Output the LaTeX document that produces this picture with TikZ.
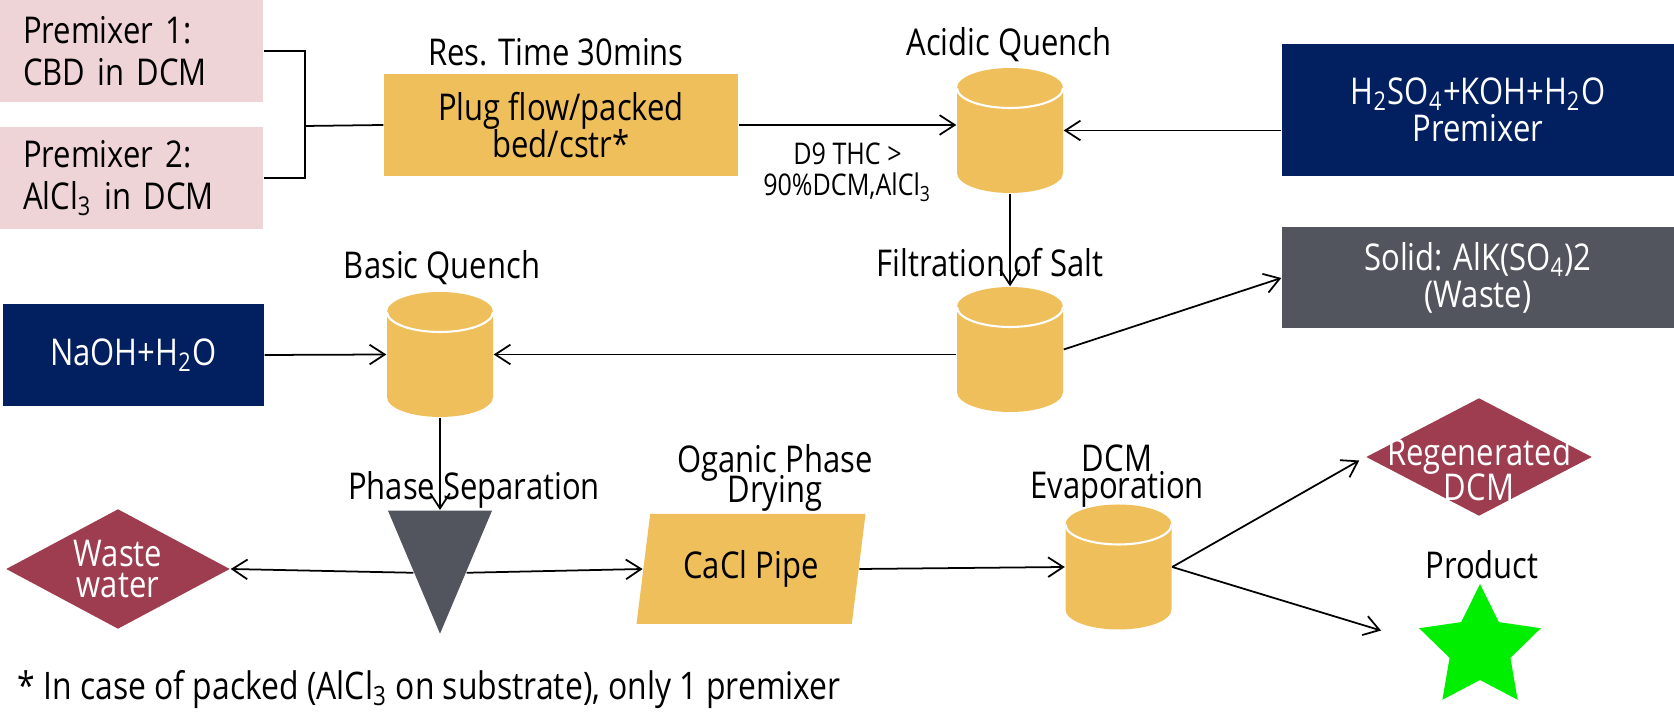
\documentclass[tikz,border=0pt]{standalone}
\usepackage{fontspec}
\setmainfont{Open Sans}[FakeStretch=0.84]
\usetikzlibrary{shapes.geometric, arrows.meta, positioning, calc}
\definecolor{mixpink}{HTML}{EED3D7}
\definecolor{vesselgold}{HTML}{EFBF5C}
\definecolor{reagentblue}{HTML}{022060}
\definecolor{slategray}{HTML}{52555E}
\definecolor{wastered}{HTML}{9E3D50}
\definecolor{stargreen}{HTML}{00EE00}
\newcommand{\lsk}[1]{\fontsize{10.5}{#1}\selectfont\lineskiplimit=-100pt}
\tikzset{
    premix/.style={rectangle, fill=mixpink, minimum width=2.63cm, minimum height=1.02cm, text width=2.17cm, inner xsep=0.23cm, align=left, font=\lsk{12}},
    reactor/.style={rectangle, fill=vesselgold, minimum width=3.54cm, minimum height=1.02cm, align=center, font=\lsk{10.5}},
    vessel/.style={rectangle, minimum width=1.06cm, minimum height=1.25cm, inner sep=0, path picture={
        \fill [vesselgold] ($(path picture bounding box.north west)+(0,-0.2)$) arc [start angle=180, end angle=0, x radius=0.53cm, y radius=0.2cm]
            -- ($(path picture bounding box.south east)+(0,0.2)$) arc [start angle=0, end angle=-180, x radius=0.53cm, y radius=0.2cm] -- cycle;
        \draw [white, line width=0.6pt] ($(path picture bounding box.north west)+(0,-0.2)$) arc [start angle=180, end angle=360, x radius=0.53cm, y radius=0.2cm];
    }},
    reagent/.style={rectangle, fill=reagentblue, text=white, minimum width=3.92cm, align=center, font=\lsk{10.5}},
    outlet/.style={diamond, fill=wastered, inner sep=0, minimum width=2.24cm, minimum height=1.2cm},
    title/.style={align=center, inner sep=0},
    arrow/.style={line width=0.5pt, -{Straight Barb[length=4.3pt, width=5.6pt]}},
    link/.style={line width=0.5pt}
}

\begin{document}
\begin{tikzpicture}[font=\lsk{12}]
    \useasboundingbox (0,0) rectangle (16.74,-7.17);
    \node (pm1) [premix] at (1.315,-0.51) {Premixer 1:\\CBD in DCM};
    \node (pm2) [premix] at (1.315,-1.78) {Premixer 2:\\AlCl\textsubscript{3} in DCM};
    \coordinate (join) at (3.05,-1.26);
    \node (plug) [reactor] at (5.61,-1.25) {Plug flow/packed\\bed/cstr*};
    \node (restime) [title] at (5.56,-0.52) {Res. Time 30mins};
    \node (acid) [vessel] at (10.10,-1.305) {};
    \node (acidtitle) [title] at (10.09,-0.45) {Acidic Quench};
    \node (h2so4) [reagent, minimum height=1.32cm] at (14.78,-1.10) {H\textsubscript{2}SO\textsubscript{4}+KOH+H\textsubscript{2}O\\Premixer};
    \node (filt) [vessel] at (10.10,-3.495) {};
    \node (filttitle) [title] at (9.90,-2.63) {Filtration of Salt};
    \node (solid) [reagent, fill=slategray, minimum height=1.01cm] at (14.78,-2.78) {Solid: AlK(SO\textsubscript{4})2\\(Waste)};
    \node (basic) [vessel] at (4.40,-3.545) {};
    \node (basictitle) [title] at (4.42,-2.68) {Basic Quench};
    \node (naoh) [reagent, minimum width=2.61cm, minimum height=1.02cm] at (1.335,-3.55) {NaOH+H\textsubscript{2}O};
    \node (sep) [isosceles triangle, isosceles triangle stretches, shape border rotate=270, fill=slategray, minimum width=1.04cm, minimum height=1.23cm, inner sep=0, anchor=north] at (4.40,-5.10) {};
    \node (septitle) [title] at (4.74,-4.90) {Phase Separation};
    \node (wastewater) [outlet, label={[text=white, align=center, font=\lsk{9}]center:Waste\\water}] at (1.18,-5.69) {};
    \node (cacl) [trapezium, trapezium left angle=76, trapezium right angle=104, trapezium stretches=true, fill=vesselgold, minimum width=2.30cm, minimum height=1.10cm, inner sep=0] at (7.51,-5.69) {CaCl Pipe};
    \node (dryingtitle) [title, font=\lsk{8.5}] at (7.75,-4.78) {Oganic Phase\\Drying};
    \node (evap) [vessel] at (11.185,-5.67) {};
    \node (evaptitle) [title, font=\lsk{7.5}] at (11.17,-4.76) {DCM\\Evaporation};
    \node (regen) [outlet, minimum width=2.26cm, minimum height=1.18cm, label={[text=white, align=center, font=\lsk{10}, yshift=-0.12cm]center:Regenerated\\DCM}] at (14.79,-4.57) {};
    \node (producttitle) [title] at (14.82,-5.65) {Product};
    \node (star) [star, star points=5, star point ratio=2, fill=stargreen, minimum size=1.28cm, inner sep=0] at (14.80,-6.48) {};
    \node (note) [anchor=west, inner sep=0, font=\fontsize{10.8}{12}\selectfont] at (0.17,-6.90) {* In case of packed (AlCl\textsubscript{3} on substrate), only 1 premixer};

    \draw [link] (pm1.east) -| (join);
    \draw [link] (pm2.east) -| (join);
    \draw [link] (join) -- (plug.west);
    \draw [arrow] (plug.east) -- (plug.east -| acid.west) node (d9) [midway, below=0.05cm, align=center, font=\fontsize{8.5}{9}\selectfont] {D9 THC >\\90\%DCM,AlCl\textsubscript{3}};
    \draw [arrow] (h2so4.west |- acid.east) -- (acid.east);
    \draw [arrow] (acid.south) -- (filt.north);
    \draw [arrow] (filt.west |- basic.east) -- (basic.east);
    \draw [arrow] (filt.east) -- (solid.west);
    \draw [arrow] (naoh.east) -- (basic.west);
    \draw [arrow] (basic.south) -- (sep.north);
    \draw [arrow] (sep.right side) -- (wastewater.east);
    \draw [arrow] (sep.left side) -- (cacl.west);
    \draw [arrow] (cacl.east) -- (evap.west);
    \draw [arrow, shorten >=2pt] (evap.east) -- (regen.west);
    \draw [arrow, shorten >=0.6cm] (evap.east) -- (star.west);
\end{tikzpicture}
\end{document}
